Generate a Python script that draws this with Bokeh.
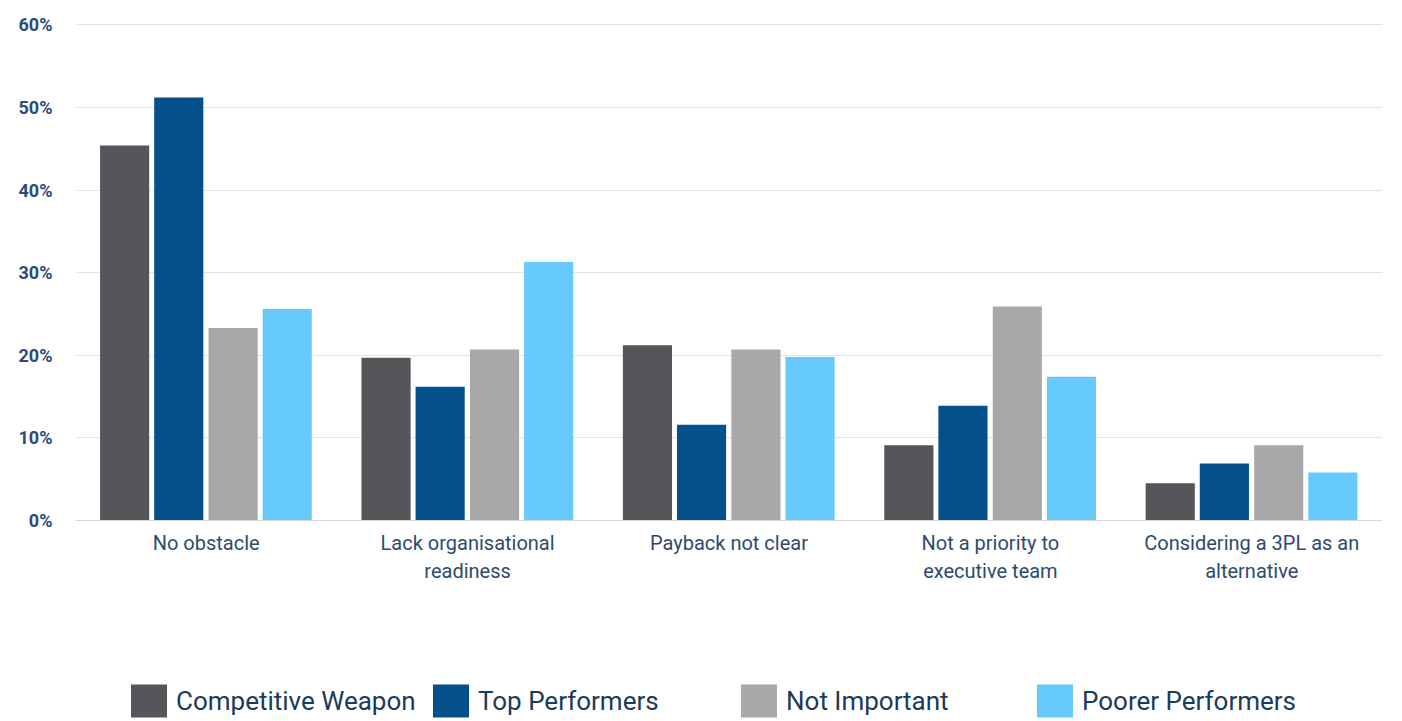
from bokeh.plotting import figure
from bokeh.layouts import column
from bokeh.models import ColumnDataSource, FactorRange, Range1d, Legend, LegendItem, PrintfTickFormatter, FixedTicker
from bokeh.transform import dodge
from bokeh.embed import file_html
from bokeh.resources import INLINE

categories = ["No obstacle", "Lack organisational\nreadiness", "Payback not clear",
              "Not a priority to\nexecutive team", "Considering a 3PL as an\nalternative"]
series_names = ["Competitive Weapon", "Top Performers", "Not Important", "Poorer Performers"]
competitive_weapon = [45.4, 19.7, 21.2, 9.1, 4.5]
top_performers = [51.2, 16.2, 11.6, 13.9, 6.9]
not_important = [23.3, 20.7, 20.7, 25.9, 9.1]
poorer_performers = [25.6, 31.3, 19.8, 17.4, 5.8]
colors = ["#54565A", "#03508A", "#A8A8A8", "#66CAFD"]
y_ticks = [0, 10, 20, 30, 40, 50, 60]

source = ColumnDataSource(dict(cat=categories, cw=competitive_weapon, tp=top_performers,
                               ni=not_important, pp=poorer_performers))

p = figure(x_range=FactorRange(factors=categories, range_padding=0),
           y_range=Range1d(0, 61), width=1400, height=658,
           output_backend="svg", toolbar_location=None,
           min_border_left=75, min_border_right=18, min_border_top=16, min_border_bottom=138)
p.outline_line_color = None
p.background_fill_color = "white"
p.border_fill_color = "white"

offsets = [-0.312, -0.105, 0.103, 0.31]
fields = ["cw", "tp", "ni", "pp"]
for f, off, c in zip(fields, offsets, colors):
    p.vbar(x=dodge("cat", off, range=p.x_range), top=f, width=0.188, source=source,
           fill_color=c, line_color=None)

p.yaxis.ticker = FixedTicker(ticks=y_ticks)
p.yaxis.formatter = PrintfTickFormatter(format="%d%%")
p.yaxis.axis_line_color = None
p.yaxis.major_tick_line_color = None
p.yaxis.minor_tick_line_color = None
p.yaxis.major_label_text_font = "Roboto"
p.yaxis.major_label_text_font_style = "bold"
p.yaxis.major_label_text_font_size = "18px"
p.yaxis.major_label_text_color = "#2C4A7C"
p.yaxis.major_label_standoff = 17

p.xaxis.axis_line_color = "#D9D9D9"
p.xaxis.major_tick_line_color = None
p.xaxis.minor_tick_line_color = None
p.xaxis.major_label_text_font = "Roboto"
p.xaxis.major_label_text_font_size = "20px"
p.xaxis.major_label_text_color = "#2D4B6E"
p.xaxis.major_label_standoff = 4

p.xgrid.grid_line_color = None
p.ygrid.grid_line_color = "#E3E3E3"
p.ygrid.grid_line_width = 1

# legend strip (frame aligned with the main chart's frame)
q = figure(width=1400, height=63, output_backend="svg", toolbar_location=None,
           x_range=Range1d(0, 1), y_range=Range1d(0, 1),
           min_border_left=75, min_border_right=18, min_border_top=0, min_border_bottom=0)
q.axis.visible = False
q.grid.visible = False
q.outline_line_color = None
leg_x = [51, 353, 661, 957]
for name, c, lx in zip(series_names, colors, leg_x):
    # zero-height helper bar, only used as the legend swatch
    r = q.vbar(x=[0.5], top=[0], bottom=[0], width=0, fill_color=c, line_color=None)
    lg = Legend(items=[LegendItem(label=name, renderers=[r])], location=(lx, 0),
                orientation="horizontal", padding=0, margin=0, spacing=0,
                glyph_width=45, glyph_height=41, label_standoff=5,
                label_text_font="Roboto", label_text_font_size="26px",
                label_text_color="#1B3A5C", label_text_baseline="middle",
                border_line_color=None, background_fill_alpha=0)
    q.add_layout(lg, "center")

open("out.html", "w").write(file_html(column(p, q, spacing=0), INLINE))
